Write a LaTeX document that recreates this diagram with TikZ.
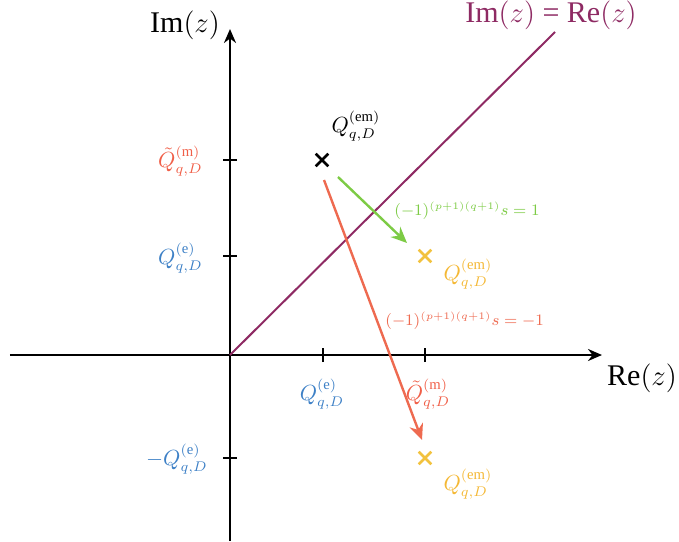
\documentclass[tikz,border=0pt]{standalone}
\usepackage{fontspec}
\setmainfont{Liberation Serif}
\usetikzlibrary{arrows.meta,shapes.misc}
\definecolor{Plum}{HTML}{8E2A63}
\definecolor{Tomato}{HTML}{EE6A50}
\definecolor{Leaf}{HTML}{7DCB45}
\definecolor{Steel}{HTML}{3D80C6}
\definecolor{Gold}{HTML}{F2C23E}
\newcommand{\Qcharge}[1]{Q^{(\mathrm{#1})}_{q,D}}

\begin{document}
\begin{tikzpicture}[x=0.5pt,y=0.5pt,
  axis/.style={line width=1.3pt,-{Stealth[length=7pt,width=6pt]}},
  tick/.style={line width=1.3pt},
  cross/.style={draw,cross out,line width=1.3pt,minimum size=5pt,inner sep=0pt},
  lab/.style={font=\fontsize{10.5}{12}\selectfont,inner sep=1pt},
  big/.style={font=\fontsize{15}{18}\selectfont},
  small/.style={font=\fontsize{7.6}{9}\selectfont,inner sep=1pt},
  flow/.style={line width=1.2pt,-{Stealth[length=8pt,width=7pt]}}]
  \useasboundingbox (-230,-186) rectangle (449,355);
  % axes
  \coordinate (O) at (0,0);
  \coordinate (xs) at (-220,0);
  \coordinate (xe) at (372,0);
  \coordinate (ys) at (0,-186);
  \coordinate (ye) at (0,326);
  \draw[axis] (xs) -- (xe);
  \draw[axis] (ys) -- (ye);
  \node[big] (im) at (-45,330) {Im$(z)$};
  \node[big] (re) at (412,-23) {Re$(z)$};
  \foreach \x in {93,195} \draw[tick] (\x,-7) -- (\x,7);
  \foreach \y in {195,99,-103} \draw[tick] (-7,\y) -- (7,\y);
  % diagonal
  \coordinate (de) at (325,323);
  \draw[Plum,line width=1pt] (O) -- (de);
  \node[big,Plum] (diag) at (321,340) {Im$(z)$ = Re$(z)$};
  % points
  \node[cross,black] (pem) at (92,195) {};
  \node[cross,Gold] (pup) at (195,99) {};
  \node[cross,Gold] (pdn) at (195,-103) {};
  \node[lab] (lem) at (126,229) {$\Qcharge{em}$};
  \node[lab,Gold!85!orange] (lup) at (238,81) {$\Qcharge{em}$};
  \node[lab,Gold!85!orange] (ldn) at (238,-129) {$\Qcharge{em}$};
  \node[lab,Tomato!90!red,anchor=east] (lm) at (-25,194) {$\tilde{Q}^{(\mathrm{m})}_{q,D}$};
  \node[lab,Steel,anchor=east] (le) at (-25,97) {$\Qcharge{e}$};
  \node[lab,Steel,anchor=east] (lme) at (-20,-104) {$-\Qcharge{e}$};
  \node[lab,Steel] (lex) at (92,-39) {$\Qcharge{e}$};
  \node[lab,Tomato!90!red] (lmx) at (198,-39) {$\tilde{Q}^{(\mathrm{m})}_{q,D}$};
  % sign flows
  \coordinate (gs) at (108,178);
  \coordinate (ge) at (177,112);
  \coordinate (rs) at (94,175);
  \coordinate (re2) at (192,-85);
  \draw[flow,Leaf] (gs) -- (ge);
  \draw[flow,Tomato] (rs) -- (re2);
  \node[small,Leaf,anchor=west] (sp) at (162,144) {$(-1)^{(p+1)(q+1)}s=1$};
  \node[small,Tomato,anchor=west] (sm) at (153,34) {$(-1)^{(p+1)(q+1)}s=-1$};
\end{tikzpicture}
\end{document}
